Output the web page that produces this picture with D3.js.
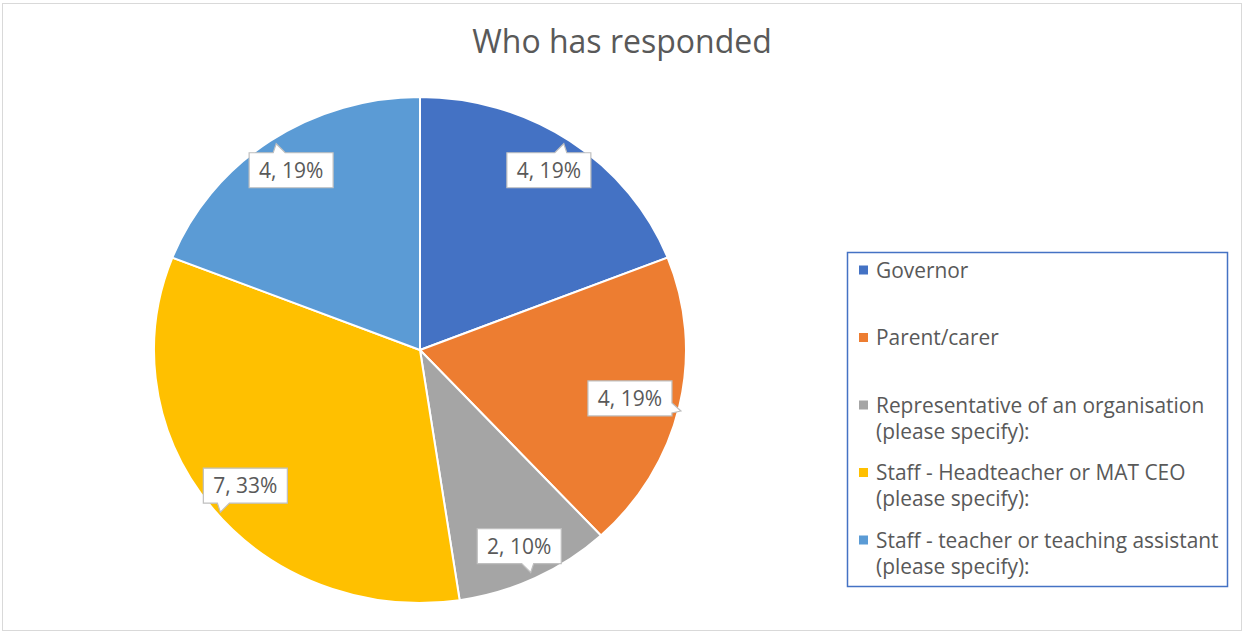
<!DOCTYPE html>
<html>
<head>
<meta charset="utf-8">
<script src="https://cdn.jsdelivr.net/npm/d3@7"></script>
<style>
  body { margin: 0; background: #fff; }
  svg { display: block; font-family: "Open Sans", Lato, sans-serif; }
</style>
</head>
<body>
<svg id="chart" width="1244" height="633"></svg>
<script>
// data
const categories = [
  "Governor",
  "Parent/carer",
  "Representative of an organisation (please specify):",
  "Staff - Headteacher or MAT CEO (please specify):",
  "Staff - teacher or teaching assistant (please specify):"
]
const legendLines = [
  ["Governor"],
  ["Parent/carer"],
  ["Representative of an organisation", "(please specify):"],
  ["Staff - Headteacher or MAT CEO", "(please specify):"],
  ["Staff - teacher or teaching assistant", "(please specify):"]
]
const counts = [4, 4, 2, 7, 4]
const colors = ["#4472C4", "#ED7D31", "#A5A5A5", "#FFC000", "#5B9BD5"]

const W = 1244, H = 633
const cx = 420, cy = 350, rx = 266, ry = 253
const textGray = "#595959"

const svg = d3.select("#chart")

// outer chart frame
svg.append("rect")
  .attr("x", 2.5).attr("y", 3.5)
  .attr("width", 1239).attr("height", 627)
  .attr("fill", "#fff").attr("stroke", "#d9d9d9")

// title
svg.append("text")
  .attr("x", 622).attr("y", 53)
  .attr("text-anchor", "middle")
  .attr("font-size", 32)
  .attr("fill", textGray)
  .text("Who has responded")

const total = d3.sum(counts)
const pct = d3.format(".0%")
const pie = d3.pie().sort(null).value(d => d)
const arcs = pie(counts)
const arc = d3.arc().innerRadius(0).outerRadius(ry)

// pie is slightly wider than tall in the picture, so stretch x
const g = svg.append("g")
  .attr("transform", `translate(${cx},${cy}) scale(${rx / ry},1)`)

g.selectAll("path.slice")
  .data(arcs).enter()
  .append("path")
    .attr("class", "slice")
    .attr("d", arc)
    .attr("fill", (d, i) => colors[i])
    .attr("stroke", "#fff")
    .attr("stroke-width", 2)
    .attr("vector-effect", "non-scaling-stroke")

// callout labels
const boxW = 84, boxH = 35, tip = 9
const labels = svg.append("g")

arcs.forEach(function(d, i){
  const a = (d.startAngle + d.endAngle) / 2
  const ux = Math.sin(a), uy = -Math.cos(a)
  let x = cx + rx * 0.86 * ux
  let y = cy + ry * 0.86 * uy
  // keep box inside pie horizontally
  const half = rx * Math.sqrt(Math.max(0, 1 - ((y - cy) / ry) ** 2)) * 0.965
  if (x + boxW / 2 > cx + half) x = cx + half - boxW / 2
  if (x - boxW / 2 < cx - half) x = cx - half + boxW / 2

  const hw = boxW / 2, hh = boxH / 2
  // which edge does the outward ray hit
  const tx = Math.abs(ux) > 1e-6 ? hw / Math.abs(ux) : Infinity
  const ty = Math.abs(uy) > 1e-6 ? hh / Math.abs(uy) : Infinity
  const t = Math.min(tx, ty)
  const px = ux * t, py = uy * t
  let pts = []
  if (ty <= tx) {
    const ex = Math.max(-hw + 8, Math.min(hw - 8, px))
    const sy = uy < 0 ? -hh : hh
    const dir = uy < 0 ? -1 : 1
    const tipPts = [[ex - 6, sy], [ex + 3 * Math.sign(ux || 1), sy + dir * tip], [ex + 6, sy]]
    if (dir < 0) pts = [[-hw, -hh], ...tipPts, [hw, -hh], [hw, hh], [-hw, hh]]
    else pts = [[-hw, -hh], [hw, -hh], [hw, hh], ...tipPts.reverse(), [-hw, hh]]
  } else {
    const ey = Math.max(-hh + 6, Math.min(hh - 6, py))
    const sx = ux < 0 ? -hw : hw
    const dir = ux < 0 ? -1 : 1
    const tipPts = [[sx, ey - 5], [sx + dir * tip, ey + 3 * Math.sign(uy || 1)], [sx, ey + 5]]
    if (dir > 0) pts = [[-hw, -hh], [hw, -hh], ...tipPts, [hw, hh], [-hw, hh]]
    else pts = [[-hw, -hh], [hw, -hh], [hw, hh], [-hw, hh], ...tipPts.reverse()]
  }

  const lg = labels.append("g").attr("transform", `translate(${x},${y})`)
  lg.append("path")
    .attr("d", d3.line()(pts) + "Z")
    .attr("fill", "#fff")
    .attr("stroke", "#bfbfbf")
    .attr("stroke-width", 1.2)
  lg.append("text")
    .attr("text-anchor", "middle")
    .attr("y", 7.5)
    .attr("font-size", 21)
    .attr("fill", textGray)
    .text(counts[i] + ", " + pct(counts[i] / total))
})

// legend
const legend = svg.append("g")
legend.append("rect")
  .attr("x", 847.5).attr("y", 252.5)
  .attr("width", 380).attr("height", 334)
  .attr("fill", "#fff")
  .attr("stroke", "#4472C4")
  .attr("stroke-width", 1.5)

const rowY = d3.scaleLinear().domain([0, categories.length - 1]).range([270, 540])

categories.forEach(function(c, i){
  const y = rowY(i)
  legend.append("rect")
    .attr("x", 859).attr("y", y - 4.5)
    .attr("width", 9).attr("height", 9)
    .attr("fill", colors[i])
  legendLines[i].forEach(function(line, j){
    legend.append("text")
      .attr("x", 876).attr("y", y + 7.5 + j * 26)
      .attr("font-size", 20.9)
      .attr("fill", textGray)
      .text(line)
  })
})
</script>
</body>
</html>
